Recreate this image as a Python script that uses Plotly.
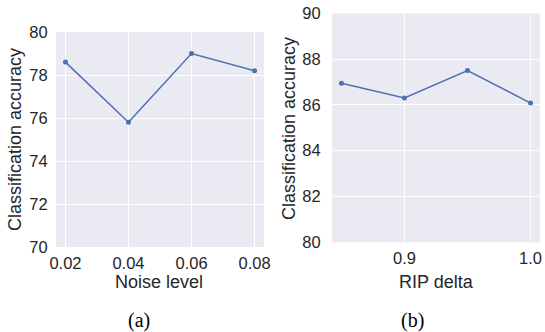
import plotly.graph_objects as go

noise_x = [0.02, 0.04, 0.06, 0.08]
noise_acc = [78.6, 75.8, 79.0, 78.2]
rip_x = [0.85, 0.90, 0.95, 1.00]
rip_acc = [86.95, 86.3, 87.5, 86.08]

W, H = 545, 332
BG = "#EAEAF2"
LINE = "#4C72B0"
TXT = "#262626"
SANS = "Liberation Sans, Arial, sans-serif"
SERIF = "Liberation Serif, Times New Roman, serif"

fig = go.Figure()
fig.add_trace(go.Scatter(x=noise_x, y=noise_acc, mode="lines+markers",
                         line=dict(color=LINE, width=1.5),
                         marker=dict(color=LINE, size=5), xaxis="x", yaxis="y",
                         showlegend=False))
fig.add_trace(go.Scatter(x=rip_x, y=rip_acc, mode="lines+markers",
                         line=dict(color=LINE, width=1.5),
                         marker=dict(color=LINE, size=5), xaxis="x2", yaxis="y2",
                         showlegend=False))

def px_x(p):
    return p / W

def px_y(p):
    return 1 - p / H

axis_common = dict(showgrid=True, gridcolor="white", gridwidth=1.3, zeroline=False,
                   showline=False, ticks="outside", tickcolor="rgba(0,0,0,0)",
                   automargin=False,
                   tickfont=dict(family=SANS, size=16.5, color=TXT))

fig.update_layout(
    width=W, height=H, margin=dict(l=0, r=0, t=0, b=0, autoexpand=False),
    paper_bgcolor="white", plot_bgcolor=BG,
    xaxis=dict(domain=[px_x(56), px_x(264)], range=[0.017, 0.083],
               tickvals=noise_x, ticktext=["0.02", "0.04", "0.06", "0.08"],
               anchor="y", ticklen=1, **axis_common),
    yaxis=dict(domain=[px_y(247), px_y(32)], range=[70, 80], dtick=2,
               anchor="x", ticklen=4, **axis_common),
    xaxis2=dict(domain=[px_x(332), px_x(540)], range=[0.8425, 1.0075],
                tickvals=[0.9, 1.0], ticktext=["0.9", "1.0"],
                anchor="y2", ticklen=1, **axis_common),
    yaxis2=dict(domain=[px_y(242.3), px_y(13.3)], range=[80, 90], dtick=2,
                anchor="x2", ticklen=7, **axis_common),
)

annots = [
    ("Noise level", 159, 282, 0, SANS, 18),
    ("RIP delta", 436, 282, 0, SANS, 18),
    ("Classification accuracy", 15, 140, -90, SANS, 18),
    ("Classification accuracy", 289, 129, -90, SANS, 18),
    ("(a)", 139, 320, 0, SERIF, 20),
    ("(b)", 412, 320, 0, SERIF, 20),
]
for text, x, y, ang, fam, sz in annots:
    fig.add_annotation(text=text, x=px_x(x), y=px_y(y), xref="paper", yref="paper",
                       showarrow=False, textangle=ang, xanchor="center", yanchor="middle",
                       font=dict(family=fam, size=sz, color=TXT if fam == SANS else "black"))

fig.write_html("out.html", config={"displayModeBar": False},
               post_script="document.body.style.margin='0';document.body.style.overflow='hidden';")
